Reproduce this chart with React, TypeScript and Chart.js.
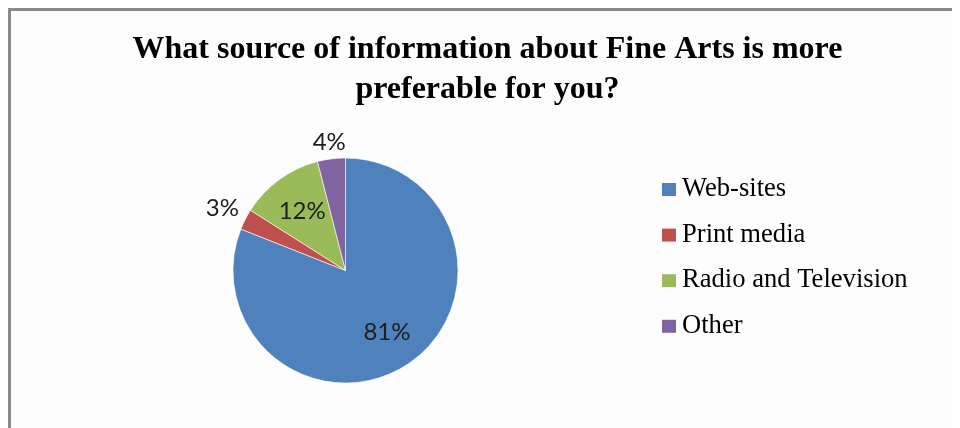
import React, { useEffect, useRef } from "react";
import { Chart, registerables } from "chart.js";

Chart.register(...registerables);

const TITLE_LINES = [
  "What source of information about Fine Arts is more",
  "preferable for you?",
];
const CATEGORIES = ["Web-sites", "Print media", "Radio and Television", "Other"];
const VALUES = [81, 3, 12, 4];
const COLORS = ["#4F81BD", "#C0504D", "#9BBB59", "#8064A2"];

const CANVAS_W = 949;
const CANVAS_H = 417;

const titlePlugin = {
  id: "customTitle",
  afterDraw(chart: any) {
    const ctx = chart.ctx;
    ctx.save();
    ctx.font = "bold 32px 'Liberation Serif', 'Times New Roman', serif";
    ctx.fillStyle = "#000000";
    ctx.textAlign = "center";
    ctx.textBaseline = "alphabetic";
    TITLE_LINES.forEach((line, i) => ctx.fillText(line, 476.5, 47 + i * 40));
    ctx.restore();
  },
};

const legendPlugin = {
  id: "customLegend",
  afterDraw(chart: any) {
    const ctx = chart.ctx;
    const labels: string[] = chart.data.labels;
    const colors: string[] = chart.data.datasets[0].backgroundColor;
    ctx.save();
    ctx.font = "26.6px 'Liberation Serif', 'Times New Roman', serif";
    ctx.textAlign = "left";
    ctx.textBaseline = "alphabetic";
    labels.forEach((label, i) => {
      const base = 185 + i * 45.6;
      ctx.fillStyle = colors[i];
      ctx.fillRect(651, base - 13, 14, 13);
      ctx.fillStyle = "#000000";
      ctx.fillText(label, 671, base);
    });
    ctx.restore();
  },
};

const dataLabelPlugin = {
  id: "pieDataLabels",
  afterDatasetsDraw(chart: any) {
    const ctx = chart.ctx;
    const meta = chart.getDatasetMeta(0);
    const values: number[] = chart.data.datasets[0].data;
    ctx.save();
    ctx.font = "24px Lato, 'Noto Sans', sans-serif";
    ctx.fillStyle = "#1e1e1e";
    ctx.textAlign = "center";
    ctx.textBaseline = "alphabetic";
    meta.data.forEach((arc: any, i: number) => {
      const p = arc.getProps(["x", "y", "startAngle", "endAngle", "outerRadius"], true);
      const mid = (p.startAngle + p.endAngle) / 2;
      const dx = Math.cos(mid);
      const dy = Math.sin(mid);
      const text = values[i] + "%";
      const m = ctx.measureText(text);
      const w = m.width;
      const h = m.actualBoundingBoxAscent;
      let r: number;
      if (values[i] >= 10) r = p.outerRadius * 0.655;
      else r = p.outerRadius + 7 + (w / 2) * Math.abs(dx) + (h / 2) * Math.abs(dy);
      const cx = p.x + dx * r;
      const cy = p.y + dy * r;
      ctx.fillText(text, cx, cy + h / 2);
    });
    ctx.restore();
  },
};

export default function App() {
  const canvasRef = useRef<HTMLCanvasElement | null>(null);

  useEffect(() => {
    document.body.style.overflow = "hidden";
    const canvas = canvasRef.current;
    if (!canvas) return;
    const chart = new Chart(canvas, {
      type: "pie",
      data: {
        labels: CATEGORIES,
        datasets: [
          {
            data: VALUES,
            backgroundColor: COLORS,
            borderColor: "rgba(255,255,255,0.6)",
            borderWidth: 1,
          },
        ],
      },
      options: {
        responsive: false,
        animation: false,
        layout: {
          padding: { left: 221.5, right: CANVAS_W - 447.5, top: 146.5, bottom: CANVAS_H - 372.5 },
        },
        plugins: {
          legend: { display: false },
          title: { display: false },
          tooltip: { enabled: false },
        },
      },
      plugins: [titlePlugin, legendPlugin, dataLabelPlugin],
    });
    return () => chart.destroy();
  }, []);

  return (
    <div
      style={{
        width: 1000,
        height: 440,
        boxSizing: "border-box",
        borderTop: "3px solid #8a8a8a",
        borderLeft: "3px solid #8a8a8a",
        background: "#fdfdfd",
      }}
    >
      <canvas ref={canvasRef} width={CANVAS_W} height={CANVAS_H} style={{ display: "block" }} />
    </div>
  );
}
